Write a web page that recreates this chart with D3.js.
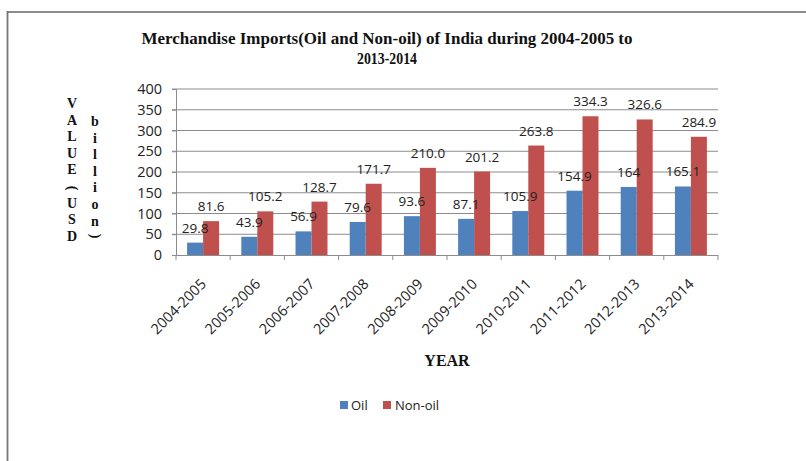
<!DOCTYPE html>
<html>
<head>
<meta charset="utf-8">
<script src="https://cdn.jsdelivr.net/npm/d3@7"></script>
<style>
  html, body { margin: 0; padding: 0; background: #fff; }
  svg { display: block; }
</style>
</head>
<body>
<svg id="chart" width="806" height="461"></svg>
<script>
const categories = ["2004-2005","2005-2006","2006-2007","2007-2008","2008-2009","2009-2010","2010-2011","2011-2012","2012-2013","2013-2014"];
const oilValues = [29.8, 43.9, 56.9, 79.6, 93.6, 87.1, 105.9, 154.9, 164, 165.1];
const nonOilValues = [81.6, 105.2, 128.7, 171.7, 210.0, 201.2, 263.8, 334.3, 326.6, 284.9];
const oilLabels = ["29.8","43.9","56.9","79.6","93.6","87.1","105.9","154.9","164","165.1"];
const nonOilLabels = ["81.6","105.2","128.7","171.7","210.0","201.2","263.8","334.3","326.6","284.9"];
const yTicks = [0, 50, 100, 150, 200, 250, 300, 350, 400];
const seriesNames = ["Oil", "Non-oil"];
const seriesColors = ["#4F81BD", "#C0504D"];
const titleLines = ["Merchandise Imports(Oil and Non-oil) of India during 2004-2005 to", "2013-2014"];
const yTitleCol1 = ["V","A","L","U","E","(","U","S","D"];
const yTitleCol2 = ["b","i","l","l","i","o","n",")"];
const xTitle = "YEAR";

const svg = d3.select("#chart");
const sans = "'Open Sans', sans-serif";
const serif = "'Liberation Serif', 'Times New Roman', serif";

// frame
svg.append("line").attr("x1", 7).attr("x2", 806).attr("y1", 12).attr("y2", 12)
  .attr("stroke", "#666").attr("stroke-width", 1.6);
svg.append("line").attr("x1", 7.5).attr("x2", 7.5).attr("y1", 11).attr("y2", 461)
  .attr("stroke", "#777").attr("stroke-width", 1.8);

const plot = { left: 176, right: 718, top: 89, bottom: 255 };

const x = d3.scaleBand().domain(categories).range([plot.left, plot.right])
  .paddingInner(0.41).paddingOuter(0.205);
const xs = d3.scaleBand().domain(seriesNames).range([0, x.bandwidth()]);
const y = d3.scaleLinear().domain([0, 400]).range([plot.bottom, plot.top]);

// gridlines
svg.append("g").selectAll("line").data(yTicks.filter(d => d > 0)).join("line")
  .attr("x1", plot.left - 4).attr("x2", plot.right)
  .attr("y1", d => y(d)).attr("y2", d => y(d))
  .attr("stroke", "#8c8c8c").attr("stroke-width", 1);

// y axis
const yAxis = d3.axisLeft(y).tickValues(yTicks).tickSize(4).tickPadding(10);
const gy = svg.append("g").attr("transform", `translate(${plot.left},0)`).call(yAxis);
gy.select(".domain").attr("stroke", "#8c8c8c");
gy.selectAll(".tick line").attr("stroke", "#8c8c8c");
gy.selectAll(".tick text").attr("font-family", sans).attr("font-size", 14.5).attr("fill", "#222");

// x axis
const step = x.step();
const boundaries = d3.range(categories.length + 1).map(i => plot.left + i * step);
svg.append("line").attr("x1", plot.left).attr("x2", plot.right)
  .attr("y1", plot.bottom + 0.5).attr("y2", plot.bottom + 0.5).attr("stroke", "#8c8c8c");
svg.append("g").selectAll("line").data(boundaries).join("line")
  .attr("x1", d => d).attr("x2", d => d)
  .attr("y1", plot.bottom).attr("y2", plot.bottom + 5).attr("stroke", "#8c8c8c");

svg.append("g").selectAll("text").data(categories).join("text")
  .attr("transform", d => `translate(${x(d) + x.bandwidth() / 2 + 4},${plot.bottom + 30}) rotate(-45)`)
  .attr("text-anchor", "end")
  .attr("font-family", sans).attr("font-size", 14.5).attr("fill", "#222")
  .text(d => d);

// bars
const seriesData = [oilValues, nonOilValues];
const labelData = [oilLabels, nonOilLabels];
seriesNames.forEach((s, si) => {
  const g = svg.append("g");
  g.selectAll("rect").data(categories).join("rect")
    .attr("x", d => x(d) + xs(s))
    .attr("width", xs.bandwidth())
    .attr("y", (d, i) => y(seriesData[si][i]))
    .attr("height", (d, i) => plot.bottom - y(seriesData[si][i]))
    .attr("fill", seriesColors[si]);
});
seriesNames.forEach((s, si) => {
  svg.append("g").selectAll("text").data(categories).join("text")
    .attr("x", d => x(d) + xs(s) + xs.bandwidth() / 2)
    .attr("y", (d, i) => y(seriesData[si][i]) - 10)
    .attr("text-anchor", "middle")
    .attr("font-family", sans).attr("font-size", 13.5).attr("fill", "#222")
    .text((d, i) => labelData[si][i]);
});

// title
svg.append("text").attr("x", 387).attr("y", 44)
  .attr("text-anchor", "middle").attr("font-family", serif).attr("font-weight", "bold")
  .attr("font-size", 17).attr("textLength", 491).attr("lengthAdjust", "spacingAndGlyphs")
  .attr("fill", "#111").text(titleLines[0]);
svg.append("text").attr("x", 387).attr("y", 64)
  .attr("text-anchor", "middle").attr("font-family", serif).attr("font-weight", "bold")
  .attr("font-size", 17).attr("textLength", 60).attr("lengthAdjust", "spacingAndGlyphs")
  .attr("fill", "#111").text(titleLines[1]);

// y title stacked
const ySpacing = 16.6;
yTitleCol1.forEach((c, i) => {
  const cy = 108 + i * ySpacing;
  const t = svg.append("text")
    .attr("text-anchor", "middle").attr("font-family", serif).attr("font-weight", "bold")
    .attr("font-size", 14).attr("fill", "#111").text(c);
  if (c === "(" || c === ")") t.attr("transform", `translate(72,${cy - 3}) rotate(90)`).attr("dy", "0.32em");
  else t.attr("x", 72).attr("y", cy);
});
yTitleCol2.forEach((c, i) => {
  const cy = 126 + i * ySpacing - (c === ")" ? 6 : 0);
  const t = svg.append("text")
    .attr("text-anchor", "middle").attr("font-family", serif).attr("font-weight", "bold")
    .attr("font-size", 14).attr("fill", "#111").text(c);
  if (c === "(" || c === ")") t.attr("transform", `translate(95,${cy}) rotate(90)`).attr("dy", "0.32em");
  else t.attr("x", 95).attr("y", cy);
});

// x title
svg.append("text").attr("x", 447).attr("y", 366)
  .attr("text-anchor", "middle").attr("font-family", serif).attr("font-weight", "bold")
  .attr("font-size", 16).attr("fill", "#111").text(xTitle);

// legend
const legendItems = [{ x: 340, tx: 351 }, { x: 383, tx: 395 }];
seriesNames.forEach((s, i) => {
  svg.append("rect").attr("x", legendItems[i].x).attr("y", 401).attr("width", 8).attr("height", 8)
    .attr("fill", seriesColors[i]);
  svg.append("text").attr("x", legendItems[i].tx).attr("y", 409.5)
    .attr("font-family", sans).attr("font-size", 13).attr("fill", "#222").text(s);
});
</script>
</body>
</html>
